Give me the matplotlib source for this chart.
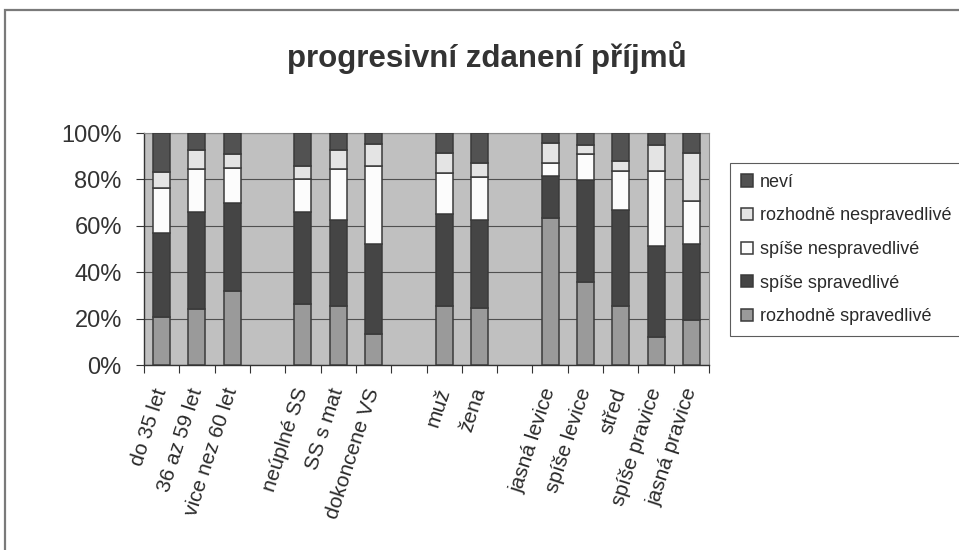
import matplotlib
matplotlib.use("Agg")
import matplotlib.pyplot as plt
import numpy as np
from matplotlib.patches import Rectangle

plt.rcParams['font.family'] = ['Liberation Sans', 'DejaVu Sans']

title = "progresivní zdanení příjmů"
categories = ["do 35 let", "36 az 59 let", "vice nez 60 let", "",
              "neúplné SS", "SS s mat", "dokoncene VS", "",
              "muž", "žena", "",
              "jasná levice", "spíše levice", "střed", "spíše pravice", "jasná pravice"]
series_names = ["rozhodně spravedlivé", "spíše spravedlivé", "spíše nespravedlivé",
                "rozhodně nespravedlivé", "neví"]
rozhodne_spravedlive = [20.8, 24.3, 32.0, 0, 26.1, 25.4, 13.4, 0, 25.4, 24.4, 0, 63.5, 35.9, 25.4, 11.9, 19.4]
spise_spravedlive    = [36.2, 41.4, 38.0, 0, 39.7, 37.1, 38.6, 0, 39.5, 38.1, 0, 18.0, 43.8, 41.4, 39.4, 32.6]
spise_nespravedlive  = [19.4, 18.9, 15.1, 0, 14.2, 21.8, 33.9, 0, 18.0, 18.7, 0, 5.7, 11.1, 17.0, 32.5, 18.8]
rozhodne_nespravedl  = [6.9, 8.0, 5.8, 0, 5.8, 8.4, 9.4, 0, 8.3, 5.7, 0, 8.3, 4.0, 4.1, 11.0, 20.4]
nevi                 = [16.7, 7.3, 9.1, 0, 14.2, 7.3, 4.7, 0, 8.8, 13.1, 0, 4.5, 5.2, 12.1, 5.2, 8.8]
yticks = [0, 20, 40, 60, 80, 100]
ytick_labels = ["0%", "20%", "40%", "60%", "80%", "100%"]

colors = ["#9a9a9a", "#454545", "#fcfcfc", "#e4e4e4", "#525252"]

data = np.array([rozhodne_spravedlive, spise_spravedlive, spise_nespravedlive,
                 rozhodne_nespravedl, nevi], dtype=float)
totals = data.sum(axis=0)
present = totals > 0
pct = np.zeros_like(data)
pct[:, present] = data[:, present] / totals[present] * 100

fig = plt.figure(figsize=(9.59, 5.5), dpi=100)
fig.patch.set_facecolor("white")
fig.add_artist(Rectangle((5/959, -0.01), 1.0, 1 - 10/550 + 0.01, transform=fig.transFigure,
                         fill=False, edgecolor="#7a7a7a", linewidth=1.6))

ax = fig.add_axes([144/959, 1 - 365/550, (709-144)/959, (365-133)/550])
ax.set_facecolor("#c0c0c0")
x = np.arange(len(categories))
xp = x[present]
bottom = np.zeros(int(present.sum()))
handles = []
for i, name in enumerate(series_names):
    vals = pct[i][present]
    h = ax.bar(xp, vals, 0.48, bottom=bottom, color=colors[i], edgecolor="#3a3a3a",
               linewidth=1.1, label=name, zorder=3)
    handles.append(h)
    bottom += vals

ax.set_xlim(-0.5, len(categories) - 0.5)
ax.set_ylim(0, 100)
ax.set_yticks(yticks)
ax.set_yticklabels(ytick_labels, fontsize=17, color="#333333")
ax.yaxis.grid(True, color="#505050", linewidth=0.8, zorder=1)
ax.set_axisbelow(True)
ax.set_xticks(np.arange(len(categories) + 1) - 0.5, minor=False)
ax.set_xticklabels([])
ax.set_xticks(x, minor=True)
ax.set_xticklabels(categories, minor=True, rotation=72, ha="right", va="center",
                   rotation_mode="anchor", fontsize=15, color="#2a2a2a")
ax.tick_params(axis="x", which="minor", length=0, pad=17)
ax.tick_params(axis="x", which="major", length=6, color="#333333")
ax.tick_params(axis="y", length=6, color="#333333", pad=10)
for s in ["top", "right"]:
    ax.spines[s].set_color("#8a8a8a")
    ax.spines[s].set_linewidth(0.8)
for s in ["left", "bottom"]:
    ax.spines[s].set_color("#333333")
    ax.spines[s].set_linewidth(1.0)

leg = fig.legend(handles[::-1], series_names[::-1], loc="upper left",
                 bbox_to_anchor=(730/959, 1 - 163/550), fontsize=13,
                 frameon=True, fancybox=False, edgecolor="#333333",
                 handlelength=0.65, handleheight=0.65, handletextpad=0.4,
                 labelspacing=0.92, borderpad=0.6, borderaxespad=0)
leg.get_frame().set_linewidth(0.8)
for t in leg.get_texts():
    t.set_color("#2a2a2a")

fig.text(487/959, 1 - 58/550, title, ha="center", va="center", fontsize=22.5,
         fontweight="bold", color="#333333")

fig.savefig("out.png", dpi=100)
